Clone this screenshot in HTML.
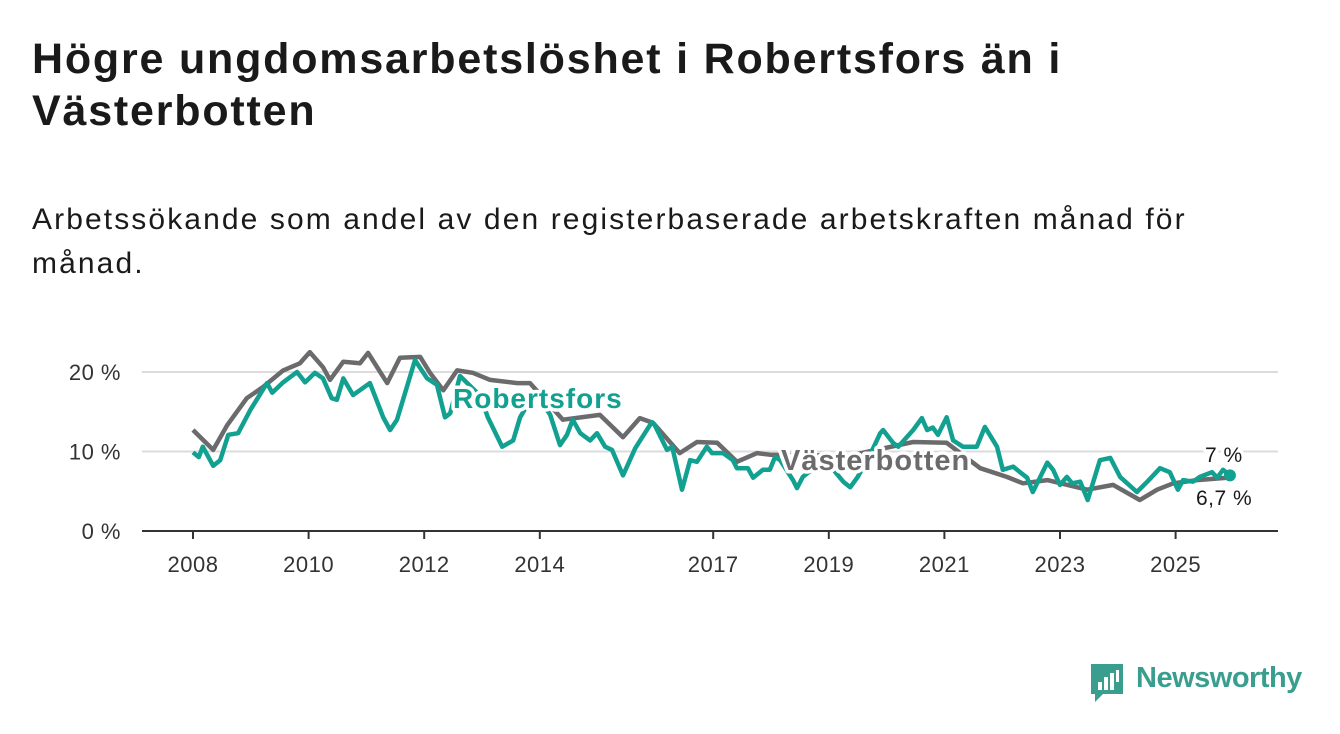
<!DOCTYPE html>
<html><head><meta charset="utf-8"><style>
body{margin:0;width:1340px;height:734px;background:#fff;font-family:"Liberation Sans",sans-serif;overflow:hidden}
#title{position:absolute;left:32px;top:33px;font-size:43px;font-weight:bold;color:#1a1a1a;line-height:52px;margin:0;letter-spacing:1.8px;white-space:nowrap}
#sub{position:absolute;left:32px;top:198px;font-size:30px;color:#1a1a1a;line-height:44px;margin:0;letter-spacing:2.1px;white-space:nowrap}
svg{position:absolute;left:0;top:0}
</style></head><body>
<h1 id="title">Högre ungdomsarbetslöshet i Robertsfors än i<br>Västerbotten</h1>
<p id="sub">Arbetssökande som andel av den registerbaserade arbetskraften månad för<br>månad.</p>
<svg id="chart" width="1340" height="734"></svg>
<script>
const yTicks=[0,10,20];
const xTicks=[2008,2010,2012,2014,2017,2019,2021,2023,2025];
const vbDates=[2008.0,2008.35,2008.59,2008.93,2009.21,2009.56,2009.85,2010.02,2010.25,2010.37,2010.6,2010.89,2011.03,2011.36,2011.58,2011.93,2012.1,2012.33,2012.57,2012.84,2013.14,2013.61,2013.83,2014.4,2015.04,2015.44,2015.73,2015.96,2016.42,2016.72,2017.07,2017.41,2017.76,2017.98,2019.37,2020.46,2021.04,2021.62,2022.08,2022.36,2022.78,2023.47,2023.92,2024.38,2024.68,2024.96,2025.37,2025.89];
const vbValues=[12.7,10.2,13.3,16.7,18.1,20.2,21.1,22.5,20.6,19.0,21.3,21.1,22.4,18.6,21.8,21.9,19.9,17.7,20.2,19.9,19.0,18.6,18.6,14.0,14.6,11.8,14.2,13.6,9.8,11.2,11.1,8.7,9.8,9.6,9.5,11.2,11.1,7.9,6.8,6.0,6.4,5.2,5.8,3.9,5.2,6.0,6.4,6.7];
const rfDates=[2008.0,2008.1,2008.17,2008.35,2008.47,2008.61,2008.78,2008.99,2009.28,2009.37,2009.56,2009.8,2009.94,2010.11,2010.25,2010.4,2010.49,2010.6,2010.77,2011.06,2011.29,2011.41,2011.53,2011.84,2012.05,2012.22,2012.36,2012.45,2012.62,2012.97,2013.1,2013.35,2013.54,2013.66,2013.92,2014.18,2014.35,2014.47,2014.57,2014.7,2014.87,2014.99,2015.13,2015.25,2015.44,2015.65,2015.94,2015.99,2016.2,2016.29,2016.46,2016.6,2016.72,2016.89,2016.98,2017.17,2017.34,2017.41,2017.6,2017.69,2017.86,2017.98,2018.07,2018.16,2018.38,2018.45,2018.55,2018.93,2019.25,2019.37,2019.5,2019.71,2019.89,2019.94,2020.11,2020.2,2020.46,2020.61,2020.7,2020.8,2020.89,2021.04,2021.15,2021.32,2021.56,2021.7,2021.91,2022.01,2022.19,2022.31,2022.43,2022.53,2022.78,2022.88,2023.0,2023.12,2023.21,2023.35,2023.48,2023.69,2023.87,2024.04,2024.33,2024.51,2024.73,2024.9,2025.04,2025.13,2025.3,2025.42,2025.63,2025.72,2025.82,2025.94];
const rfValues=[9.9,9.3,10.6,8.2,8.9,12.1,12.3,15.2,18.6,17.4,18.7,20.0,18.7,19.9,19.2,16.7,16.5,19.2,17.1,18.6,14.3,12.7,14.0,21.5,19.2,18.4,14.3,14.8,19.5,17.0,14.3,10.6,11.4,14.3,17.5,14.6,10.8,12.1,14.0,12.3,11.4,12.3,10.6,10.2,7.0,10.4,13.7,13.3,10.2,10.6,5.2,8.9,8.7,10.6,9.8,9.8,8.9,7.9,7.9,6.7,7.7,7.7,9.3,8.9,6.4,5.4,6.8,9.0,6.2,5.5,6.8,9.5,12.3,12.7,11.1,10.6,12.7,14.2,12.7,13.0,12.1,14.3,11.4,10.6,10.6,13.1,10.6,7.7,8.1,7.4,6.7,4.9,8.6,7.7,5.8,6.8,6.0,6.2,3.9,8.9,9.2,6.8,4.9,6.2,7.9,7.4,5.2,6.4,6.2,6.8,7.4,6.7,7.7,7.0];
const NS='http://www.w3.org/2000/svg';
const svg=document.getElementById('chart');
const X=v=>193+(v-2008)*57.8;
const Y=v=>531-v*7.95;
function mk(tag,attrs,parent){const e=document.createElementNS(NS,tag);for(const k in attrs)e.setAttribute(k,attrs[k]);(parent||svg).appendChild(e);return e;}
yTicks.forEach(t=>{
  if(t>0){const g=mk('line',{x1:142,x2:1278,y1:Y(t),y2:Y(t),stroke:'#dcdcdc','stroke-width':2});
  
  }
  const l=mk('text',{x:121,y:Y(t)+8,'text-anchor':'end','font-size':22,fill:'#333','letter-spacing':0.5});
  l.textContent=t+' %';
  
  
});
const ax=mk('line',{x1:142,x2:1278,y1:531,y2:531,stroke:'#333','stroke-width':2});


xTicks.forEach(t=>{
  const tk=mk('line',{x1:X(t),x2:X(t),y1:531,y2:539,stroke:'#333','stroke-width':2});
  
  
  const l=mk('text',{x:X(t),y:572,'text-anchor':'middle','font-size':22,fill:'#333','letter-spacing':0.5});
  l.textContent=t;
  
  
});
function line(d,v){return d.map((x,i)=>(i?'L':'M')+X(x).toFixed(1)+','+Y(v[i]).toFixed(1)).join('');}
const vb=mk('path',{d:line(vbDates,vbValues),fill:'none',stroke:'#6b6b6d','stroke-width':4.5,'stroke-linejoin':'round'});


const rf=mk('path',{d:line(rfDates,rfValues),fill:'none',stroke:'#12a090','stroke-width':4.5,'stroke-linejoin':'round'});


const n=rfDates.length-1;
const dot=mk('circle',{cx:X(rfDates[n]),cy:Y(rfValues[n]),r:6,fill:'#12a090'});


function lab(txt,x,y,c,size,bold,name){const t=mk('text',{x:x,y:y,fill:c,'font-size':size,'font-weight':bold?'bold':'normal',stroke:'#fff','stroke-width':7,'paint-order':'stroke','stroke-linejoin':'round','letter-spacing':bold?1:0.5});t.textContent=txt;

}
lab('Robertsfors',453,408,'#12a090',28,true,'robertsfors-label');
lab('Västerbotten',781,470,'#6b6b6d',29,true,'vasterbotten-label');
lab('7 %',1205,462,'#1a1a1a',21,false,'robertsfors-end-value');
lab('6,7 %',1196,505,'#1a1a1a',21,false,'vasterbotten-end-value');
</script>
<div style="position:absolute;left:1089px;top:662px;width:220px;height:42px">
<svg width="40" height="42" style="position:absolute;left:0;top:0"><path d="M2 2h32v30H14l-8 8v-8H2z" fill="#3a9e8f"/><rect x="9" y="20" width="4" height="8" fill="#fff"/><rect x="15" y="15" width="4" height="13" fill="#fff"/><rect x="21" y="11" width="4" height="17" fill="#fff"/><rect x="27" y="8" width="3" height="12" fill="#fff"/></svg>
<span style="position:absolute;left:47px;top:0;font-size:29px;color:#3a9e8f;font-weight:bold;letter-spacing:-0.5px">Newsworthy</span>
</div>
</body></html>
